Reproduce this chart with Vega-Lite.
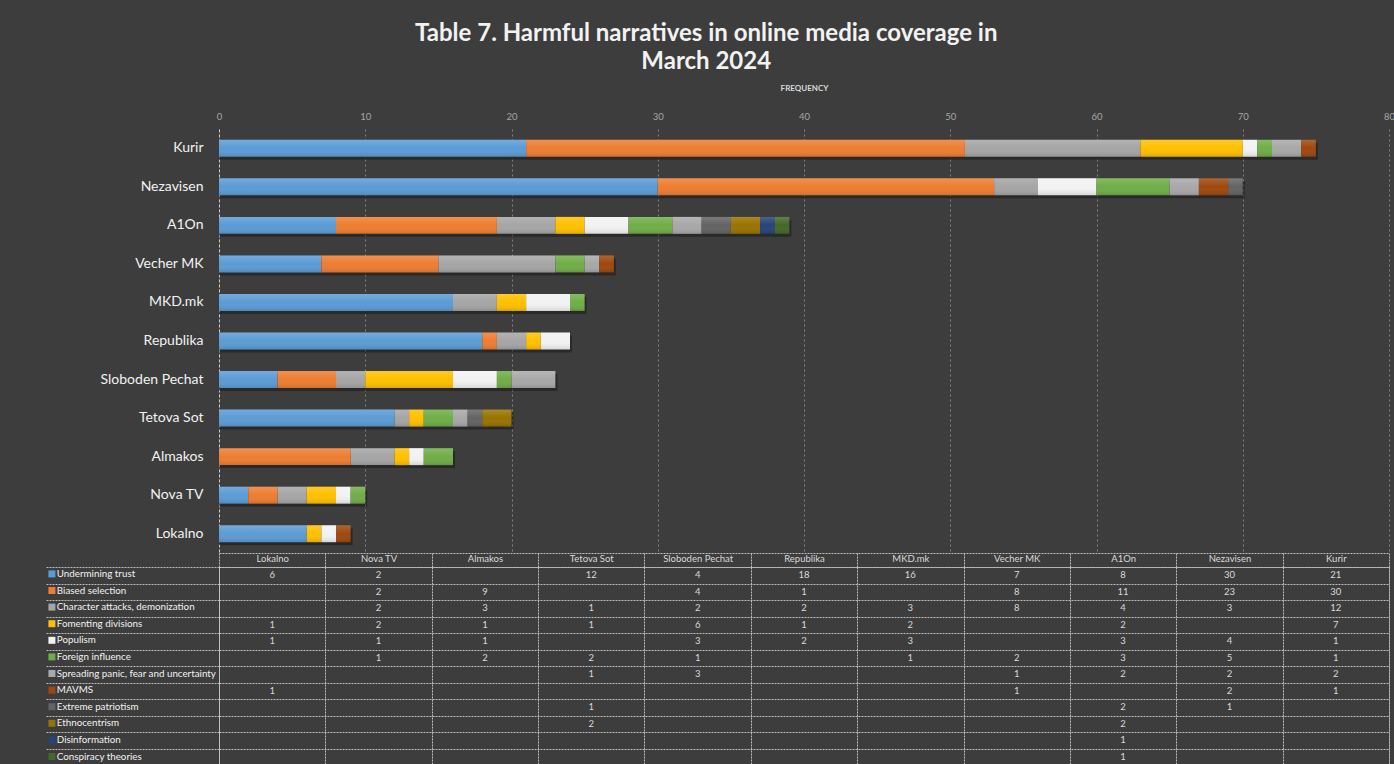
{
  "$schema": "https://vega.github.io/schema/vega-lite/v6.json",
  "background": "#3d3d3d",
  "padding": {"left": 44, "top": 22, "right": 0, "bottom": 0},
  "config": {
    "font": "Lato",
    "view": {"stroke": null},
    "axis": {"labelColor": "#d9d9d9", "titleColor": "#d9d9d9", "domainColor": "#bfbfbf", "tickColor": "#bfbfbf", "gridColor": "#7f7f7f"}
  },
  "title": {
    "text": ["Table 7. Harmful narratives in online media coverage in", "March 2024"],
    "fontSize": 24, "fontWeight": "bold", "color": "#f2f2f2", "anchor": "middle", "frame": "bounds",
    "lineHeight": 28, "offset": 10, "dx": -13
  },
  "datasets": {
    "d": [
      {"outlet": "Lokalno", "narrative": "Undermining trust", "count": 6},
      {"outlet": "Lokalno", "narrative": "Fomenting divisions", "count": 1},
      {"outlet": "Lokalno", "narrative": "Populism", "count": 1},
      {"outlet": "Lokalno", "narrative": "MAVMS", "count": 1},
      {"outlet": "Nova TV", "narrative": "Undermining trust", "count": 2},
      {"outlet": "Nova TV", "narrative": "Biased selection", "count": 2},
      {"outlet": "Nova TV", "narrative": "Character attacks, demonization", "count": 2},
      {"outlet": "Nova TV", "narrative": "Fomenting divisions", "count": 2},
      {"outlet": "Nova TV", "narrative": "Populism", "count": 1},
      {"outlet": "Nova TV", "narrative": "Foreign influence", "count": 1},
      {"outlet": "Almakos", "narrative": "Biased selection", "count": 9},
      {"outlet": "Almakos", "narrative": "Character attacks, demonization", "count": 3},
      {"outlet": "Almakos", "narrative": "Fomenting divisions", "count": 1},
      {"outlet": "Almakos", "narrative": "Populism", "count": 1},
      {"outlet": "Almakos", "narrative": "Foreign influence", "count": 2},
      {"outlet": "Tetova Sot", "narrative": "Undermining trust", "count": 12},
      {"outlet": "Tetova Sot", "narrative": "Character attacks, demonization", "count": 1},
      {"outlet": "Tetova Sot", "narrative": "Fomenting divisions", "count": 1},
      {"outlet": "Tetova Sot", "narrative": "Foreign influence", "count": 2},
      {"outlet": "Tetova Sot", "narrative": "Spreading panic, fear and uncertainty", "count": 1},
      {"outlet": "Tetova Sot", "narrative": "Extreme patriotism", "count": 1},
      {"outlet": "Tetova Sot", "narrative": "Ethnocentrism", "count": 2},
      {"outlet": "Sloboden Pechat", "narrative": "Undermining trust", "count": 4},
      {"outlet": "Sloboden Pechat", "narrative": "Biased selection", "count": 4},
      {"outlet": "Sloboden Pechat", "narrative": "Character attacks, demonization", "count": 2},
      {"outlet": "Sloboden Pechat", "narrative": "Fomenting divisions", "count": 6},
      {"outlet": "Sloboden Pechat", "narrative": "Populism", "count": 3},
      {"outlet": "Sloboden Pechat", "narrative": "Foreign influence", "count": 1},
      {"outlet": "Sloboden Pechat", "narrative": "Spreading panic, fear and uncertainty", "count": 3},
      {"outlet": "Republika", "narrative": "Undermining trust", "count": 18},
      {"outlet": "Republika", "narrative": "Biased selection", "count": 1},
      {"outlet": "Republika", "narrative": "Character attacks, demonization", "count": 2},
      {"outlet": "Republika", "narrative": "Fomenting divisions", "count": 1},
      {"outlet": "Republika", "narrative": "Populism", "count": 2},
      {"outlet": "MKD.mk", "narrative": "Undermining trust", "count": 16},
      {"outlet": "MKD.mk", "narrative": "Character attacks, demonization", "count": 3},
      {"outlet": "MKD.mk", "narrative": "Fomenting divisions", "count": 2},
      {"outlet": "MKD.mk", "narrative": "Populism", "count": 3},
      {"outlet": "MKD.mk", "narrative": "Foreign influence", "count": 1},
      {"outlet": "Vecher MK", "narrative": "Undermining trust", "count": 7},
      {"outlet": "Vecher MK", "narrative": "Biased selection", "count": 8},
      {"outlet": "Vecher MK", "narrative": "Character attacks, demonization", "count": 8},
      {"outlet": "Vecher MK", "narrative": "Foreign influence", "count": 2},
      {"outlet": "Vecher MK", "narrative": "Spreading panic, fear and uncertainty", "count": 1},
      {"outlet": "Vecher MK", "narrative": "MAVMS", "count": 1},
      {"outlet": "A1On", "narrative": "Undermining trust", "count": 8},
      {"outlet": "A1On", "narrative": "Biased selection", "count": 11},
      {"outlet": "A1On", "narrative": "Character attacks, demonization", "count": 4},
      {"outlet": "A1On", "narrative": "Fomenting divisions", "count": 2},
      {"outlet": "A1On", "narrative": "Populism", "count": 3},
      {"outlet": "A1On", "narrative": "Foreign influence", "count": 3},
      {"outlet": "A1On", "narrative": "Spreading panic, fear and uncertainty", "count": 2},
      {"outlet": "A1On", "narrative": "Extreme patriotism", "count": 2},
      {"outlet": "A1On", "narrative": "Ethnocentrism", "count": 2},
      {"outlet": "A1On", "narrative": "Disinformation", "count": 1},
      {"outlet": "A1On", "narrative": "Conspiracy theories", "count": 1},
      {"outlet": "Nezavisen", "narrative": "Undermining trust", "count": 30},
      {"outlet": "Nezavisen", "narrative": "Biased selection", "count": 23},
      {"outlet": "Nezavisen", "narrative": "Character attacks, demonization", "count": 3},
      {"outlet": "Nezavisen", "narrative": "Populism", "count": 4},
      {"outlet": "Nezavisen", "narrative": "Foreign influence", "count": 5},
      {"outlet": "Nezavisen", "narrative": "Spreading panic, fear and uncertainty", "count": 2},
      {"outlet": "Nezavisen", "narrative": "MAVMS", "count": 2},
      {"outlet": "Nezavisen", "narrative": "Extreme patriotism", "count": 1},
      {"outlet": "Kurir", "narrative": "Undermining trust", "count": 21},
      {"outlet": "Kurir", "narrative": "Biased selection", "count": 30},
      {"outlet": "Kurir", "narrative": "Character attacks, demonization", "count": 12},
      {"outlet": "Kurir", "narrative": "Fomenting divisions", "count": 7},
      {"outlet": "Kurir", "narrative": "Populism", "count": 1},
      {"outlet": "Kurir", "narrative": "Foreign influence", "count": 1},
      {"outlet": "Kurir", "narrative": "Spreading panic, fear and uncertainty", "count": 2},
      {"outlet": "Kurir", "narrative": "MAVMS", "count": 1}
    ]
  },
  "vconcat": [
    {
      "width": 1170,
      "height": 424,
      "data": {"name": "d"},
      "encoding": {
        "y": {
          "field": "outlet", "type": "nominal",
          "scale": {"domain": ["Kurir", "Nezavisen", "A1On", "Vecher MK", "MKD.mk", "Republika", "Sloboden Pechat", "Tetova Sot", "Almakos", "Nova TV", "Lokalno"], "paddingInner": 0.56, "paddingOuter": 0.28},
          "axis": {"title": null, "labelFontSize": 14, "labelColor": "#f2f2f2", "labelPadding": 16, "ticks": false, "domainDash": [3, 2], "domainColor": "#d0d0d0"}
        }
      },
      "layer": [
        {
          "mark": {"type": "bar", "color": "#111111", "opacity": 0.45, "xOffset": 2, "yOffset": 3},
          "encoding": {
            "x": {
              "aggregate": "sum", "field": "count", "type": "quantitative",
              "scale": {"domain": [0, 80], "nice": false},
              "axis": {"orient": "top", "title": "FREQUENCY", "titleFontSize": 8, "titleFontWeight": "bold", "titlePadding": 19, "titleColor": "#d9d9d9",
                       "values": [0, 10, 20, 30, 40, 50, 60, 70, 80], "labelFontSize": 9.5, "labelColor": "#a6a6a6", "labelPadding": 8,
                       "ticks": false, "domain": false, "grid": true, "gridDash": [2, 3], "gridColor": "#858585", "labelFlush": false}
            }
          }
        },
        {
          "transform": [
            {"calculate": "indexof(['Undermining trust', 'Biased selection', 'Character attacks, demonization', 'Fomenting divisions', 'Populism', 'Foreign influence', 'Spreading panic, fear and uncertainty', 'MAVMS', 'Extreme patriotism', 'Ethnocentrism', 'Disinformation', 'Conspiracy theories'], datum.narrative)", "as": "stackOrder"}
          ],
          "mark": {"type": "bar"},
          "encoding": {
            "x": {"field": "count", "type": "quantitative", "stack": "zero", "axis": null},
            "order": {"field": "stackOrder", "type": "quantitative", "sort": "ascending"},
            "color": {
              "field": "narrative", "type": "nominal",
              "scale": {
                "domain": ["Undermining trust", "Biased selection", "Character attacks, demonization", "Fomenting divisions", "Populism", "Foreign influence", "Spreading panic, fear and uncertainty", "MAVMS", "Extreme patriotism", "Ethnocentrism", "Disinformation", "Conspiracy theories"],
                "range": ["#5B9BD5", "#ED7D31", "#A5A5A5", "#FFC000", "#F2F2F2", "#70AD47", "#A8A8A8", "#9E480E", "#636363", "#997300", "#264478", "#43682B"]
              },
              "legend": {
                "orient": "none", "legendX": -172, "legendY": 440, "title": null, "symbolType": "square", "symbolSize": 49, "symbolStrokeWidth": 0,
                "labelFontSize": 9.8, "labelColor": "#f2f2f2", "labelLimit": 220, "rowPadding": 5.6, "padding": 0, "labelOffset": 0
              }
            }
          }
        },
        {
          "mark": {"type": "bar", "color": {"gradient": "linear", "x1": 0, "y1": 0, "x2": 0, "y2": 1, "stops": [{"offset": 0, "color": "rgba(255,255,255,0.16)"}, {"offset": 0.5, "color": "rgba(255,255,255,0)"}, {"offset": 1, "color": "rgba(0,0,0,0.12)"}]}},
          "encoding": {
            "x": {"aggregate": "sum", "field": "count", "type": "quantitative",
                  "axis": {"orient": "bottom", "title": null, "labels": false, "ticks": false, "grid": false, "domain": true, "domainDash": [2, 1], "domainColor": "#bfbfbf"}}
          }
        }
      ],
      "resolve": {"axis": {"x": "independent"}}
    },
    {
      "width": 1170,
      "height": 198,
      "data": {"name": "d"},
      "view": {"stroke": "#bfbfbf", "strokeDash": [2, 1]},
      "mark": {"type": "text", "fontSize": 9.5, "color": "#d9d9d9"},
      "encoding": {
        "x": {
          "field": "outlet", "type": "nominal",
          "scale": {"domain": ["Lokalno", "Nova TV", "Almakos", "Tetova Sot", "Sloboden Pechat", "Republika", "MKD.mk", "Vecher MK", "A1On", "Nezavisen", "Kurir"], "paddingInner": 0, "paddingOuter": 0},
          "axis": {"orient": "top", "title": null, "tickBand": "extent", "tickSize": 14, "labelPadding": -10, "labelAngle": 0, "labelFontSize": 9.5, "labelColor": "#d9d9d9",
                   "grid": true, "gridColor": "#bfbfbf", "gridDash": [2, 1], "domainColor": "#bfbfbf", "domainDash": [2, 1], "tickColor": "#bfbfbf", "tickDash": [2, 1]}
        },
        "y": {
          "field": "narrative", "type": "nominal",
          "scale": {"domain": ["Undermining trust", "Biased selection", "Character attacks, demonization", "Fomenting divisions", "Populism", "Foreign influence", "Spreading panic, fear and uncertainty", "MAVMS", "Extreme patriotism", "Ethnocentrism", "Disinformation", "Conspiracy theories"], "paddingInner": 0, "paddingOuter": 0},
          "axis": {"title": null, "tickBand": "extent", "tickSize": 174, "labels": false, "grid": true, "gridColor": "#bfbfbf", "gridDash": [2, 1], "tickColor": "#bfbfbf", "tickDash": [2, 1], "domainColor": "#bfbfbf"}
        },
        "text": {"field": "count", "type": "quantitative"}
      }
    }
  ],
  "spacing": 14,
  "bounds": "flush"
}
